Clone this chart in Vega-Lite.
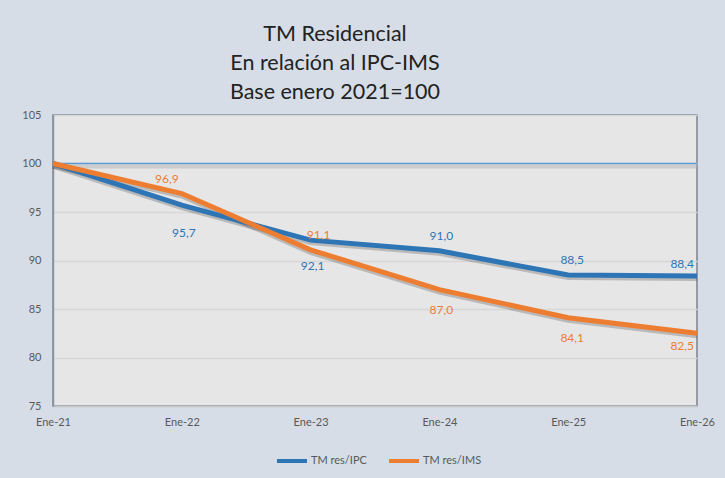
{
  "$schema": "https://vega.github.io/schema/vega-lite/v6.json",
  "width": 644,
  "height": 291,
  "autosize": {"type": "none"},
  "padding": {"left": 53, "top": 115, "right": 28, "bottom": 72},
  "background": "#d6dde7",
  "config": {
    "font": "Lato",
    "locale": {"number": {"decimal": ",", "thousands": ".", "grouping": [3], "currency": ["", " €"]}},
    "view": {"fill": "#e6e6e6", "stroke": "#7b838e", "strokeWidth": 1.5},
    "axis": {"labelFont": "Lato", "labelFontSize": 11, "labelColor": "#595959", "ticks": false, "title": null}
  },
  "title": {
    "text": ["TM Residencial", "En relación al IPC-IMS", "Base enero 2021=100"],
    "anchor": "start",
    "align": "center",
    "dx": 282,
    "fontSize": 21.5,
    "fontWeight": "normal",
    "font": "Lato",
    "color": "#222222",
    "lineHeight": 29,
    "offset": 6,
    "frame": "group"
  },
  "datasets": {
    "series": [
      {"year": "Ene-21", "series": "TM res/IPC", "value": 100.0},
      {"year": "Ene-22", "series": "TM res/IPC", "value": 95.7},
      {"year": "Ene-23", "series": "TM res/IPC", "value": 92.1},
      {"year": "Ene-24", "series": "TM res/IPC", "value": 91.0},
      {"year": "Ene-25", "series": "TM res/IPC", "value": 88.5},
      {"year": "Ene-26", "series": "TM res/IPC", "value": 88.4},
      {"year": "Ene-21", "series": "TM res/IMS", "value": 100.0},
      {"year": "Ene-22", "series": "TM res/IMS", "value": 96.9},
      {"year": "Ene-23", "series": "TM res/IMS", "value": 91.1},
      {"year": "Ene-24", "series": "TM res/IMS", "value": 87.0},
      {"year": "Ene-25", "series": "TM res/IMS", "value": 84.1},
      {"year": "Ene-26", "series": "TM res/IMS", "value": 82.5}
    ],
    "ref": [{"year": "Ene-21", "value": 100}]
  },
  "encoding": {
    "x": {
      "field": "year", "type": "ordinal",
      "scale": {"type": "point", "padding": 0, "domain": ["Ene-21", "Ene-22", "Ene-23", "Ene-24", "Ene-25", "Ene-26"]},
      "axis": {"labelAngle": 0, "domainColor": "#c6c6c6", "domainWidth": 1.5, "labelPadding": 10, "grid": false}
    },
    "y": {
      "field": "value", "type": "quantitative",
      "scale": {"domain": [75, 105], "nice": false, "zero": false},
      "axis": {"values": [75, 80, 85, 90, 95, 100, 105], "domainColor": "#8795a5", "domainWidth": 1.5, "labelPadding": 12, "gridColor": "#d7d7d7", "gridWidth": 1.5}
    }
  },
  "layer": [
    {
      "data": {"name": "ref"},
      "mark": {"type": "rule", "stroke": "#b4b4b4", "strokeWidth": 4, "opacity": 0.5, "yOffset": 3},
      "encoding": {"x": null, "y": {"field": "value", "type": "quantitative"}}
    },
    {
      "data": {"name": "ref"},
      "mark": {"type": "rule", "stroke": "#5b9bd5", "strokeWidth": 1.5},
      "encoding": {"x": null, "y": {"field": "value", "type": "quantitative"}}
    },
    {
      "data": {"name": "series"},
      "mark": {"type": "line", "stroke": "#333333", "strokeWidth": 5, "opacity": 0.25, "yOffset": 2.5},
      "encoding": {"detail": {"field": "series"}}
    },
    {
      "data": {"name": "series"},
      "mark": {"type": "line", "strokeWidth": 5},
      "encoding": {
        "color": {
          "field": "series", "type": "nominal",
          "scale": {"domain": ["TM res/IPC", "TM res/IMS"], "range": ["#2e75b6", "#ed7d31"]},
          "legend": {
            "title": null, "orient": "none", "direction": "horizontal",
            "legendX": 222, "legendY": 329,
            "symbolType": "stroke", "symbolSize": 900, "symbolStrokeWidth": 4,
            "labelFontSize": 11, "labelColor": "#595959", "labelOffset": 2,
            "columnPadding": 14
          }
        }
      }
    },
    {
      "data": {"name": "series"},
      "transform": [{"filter": "datum.year != 'Ene-21'"}],
      "mark": {
        "type": "text",
        "fontSize": 12,
        "font": "Lato",
        "align": {"expr": "datum.year == 'Ene-26' ? 'right' : 'center'"},
        "dx": {"expr": "datum.year == 'Ene-26' ? -3 : (datum.series == 'TM res/IMS' && datum.year == 'Ene-22' ? -15 : (datum.series == 'TM res/IMS' && datum.year == 'Ene-23' ? 8 : (datum.year == 'Ene-25' ? 4 : 2)))"},
        "dy": {"expr": "datum.series == 'TM res/IPC' ? (datum.year == 'Ene-22' ? 28 : (datum.year == 'Ene-23' ? 26 : (datum.year == 'Ene-26' ? -12 : -15))) : (datum.year == 'Ene-22' || datum.year == 'Ene-23' ? -15 : (datum.year == 'Ene-26' ? 13 : 20))"}
      },
      "encoding": {
        "text": {"field": "value", "type": "quantitative", "format": ".1f"},
        "color": {"field": "series", "type": "nominal", "legend": null}
      }
    }
  ]
}
